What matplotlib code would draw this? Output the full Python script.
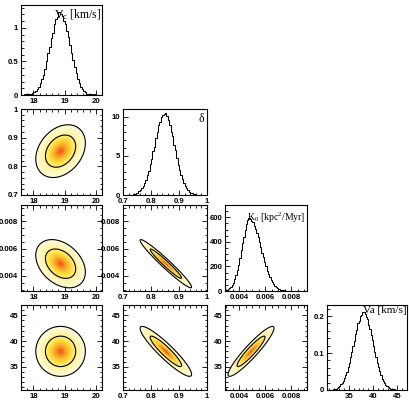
import numpy as np
import matplotlib
matplotlib.use("Agg")
import matplotlib.pyplot as plt
from matplotlib.ticker import MultipleLocator, FuncFormatter
from matplotlib.colors import LinearSegmentedColormap

# ---------------- data ----------------
param_titles = ["V$_\\mathrm{c}$ [km/s]", "\u03b4", "K$_0$ [kpc$^2$/Myr]", "Va [km/s]"]
axis_limits = [(17.6, 20.2), (0.7, 1.0), (0.0029, 0.0092), (30.5, 47.0)]

vc_hist_lo, vc_hist_w = 17.6, 0.05
vc_hist = [0.00, 0.00, 0.01, 0.01, 0.01, 0.01, 0.02, 0.03, 0.04, 0.06,
           0.09, 0.12, 0.18, 0.24, 0.30, 0.38, 0.50, 0.62, 0.72, 0.85,
           0.93, 1.05, 1.13, 1.16, 1.23, 1.21, 1.18, 1.10, 1.05, 0.96,
           0.86, 0.75, 0.63, 0.52, 0.41, 0.33, 0.24, 0.18, 0.12, 0.09,
           0.06, 0.04, 0.02, 0.02, 0.01, 0.01, 0.00, 0.01, 0.00, 0.00,
           0.00, 0.00]

delta_hist_lo, delta_hist_w = 0.7, 0.005
delta_hist = [0.0, 0.0, 0.01, 0.0, 0.03, 0.04, 0.06, 0.1, 0.14, 0.2,
              0.3, 0.45, 0.6, 0.85, 1.1, 1.5, 1.95, 2.55, 3.1, 3.95,
              4.6, 5.6, 6.2, 7.3, 8.0, 8.9, 9.4, 10.0, 10.2, 10.4,
              10.5, 10.1, 9.6, 9.0, 8.1, 7.5, 6.4, 5.7, 4.7, 3.9,
              3.2, 2.5, 2.0, 1.55, 1.1, 0.85, 0.6, 0.4, 0.3, 0.2,
              0.13, 0.1, 0.06, 0.04, 0.02, 0.02, 0.01, 0.0, 0.0, 0.0]

k0_hist_lo, k0_hist_w = 0.0029, 0.0001
k0_hist = [3, 8, 14, 22, 30, 48, 66, 95, 130, 170,
           215, 270, 330, 390, 440, 500, 545, 575, 592, 585,
           570, 560, 530, 505, 470, 440, 395, 355, 310, 280,
           235, 200, 165, 140, 112, 90, 70, 55, 42, 32,
           25, 18, 12, 10, 6, 5, 3, 2, 2, 1,
           1, 0, 0, 0, 0, 0, 0, 0, 0, 0, 0, 0, 0]

va_hist_lo, va_hist_w = 31.0, 0.25
va_hist = [0.000, 0.001, 0.001, 0.002, 0.002, 0.004, 0.005, 0.008, 0.010, 0.015,
           0.019, 0.025, 0.032, 0.040, 0.050, 0.063, 0.073, 0.090, 0.102, 0.120,
           0.133, 0.152, 0.163, 0.180, 0.188, 0.200, 0.204, 0.210, 0.212, 0.206,
           0.198, 0.191, 0.177, 0.166, 0.149, 0.136, 0.118, 0.103, 0.089, 0.074,
           0.061, 0.051, 0.041, 0.031, 0.025, 0.020, 0.014, 0.011, 0.008, 0.005,
           0.004, 0.003, 0.002, 0.002, 0.001, 0.001, 0.000, 0.001, 0.000, 0.000,
           0.000, 0.000]

hist_values = [vc_hist, delta_hist, k0_hist, va_hist]
hist_lo = [vc_hist_lo, delta_hist_lo, k0_hist_lo, va_hist_lo]
hist_width = [vc_hist_w, delta_hist_w, k0_hist_w, va_hist_w]
hist_ymax = [1.34, 11.0, 700.0, 0.23]

# 2D posterior summaries (centre, spread, pairwise correlation)
param_mean = [18.87, 0.853, 0.0049, 38.0]
param_sigma = [0.32, 0.037, 0.00071, 1.95]
pair_corr = {(0, 1): 0.30, (0, 2): -0.35, (0, 3): 0.0,
             (1, 2): -0.97, (1, 3): -0.92, (2, 3): 0.93}
contour_levels_cl = [0.9545, 0.6827]

# ---------------- layout / style ----------------
major_step = [1.0, 0.1, 0.002, 5.0]
minor_step = [0.2, 0.02, 0.0005, 1.0]
hist_major = [0.5, 5.0, 200.0, 0.1]
hist_minor = [0.1, 1.0, 50.0, 0.02]

W, H = 410, 401
col_left = [21, 123, 225, 327]
col_right = [102, 207, 307, 407]
row_top = [5, 109, 205, 305]
row_bot = [95, 195, 291, 390]
title_pos = [(0.995, 0.975), (0.97, 0.95), (0.985, 0.93), (0.99, 0.985)]
title_size = [8.5, 8.5, 7.0, 8.0]

plt.rcParams["font.family"] = ["Liberation Sans", "DejaVu Sans"]
plt.rcParams["mathtext.fontset"] = "custom"
plt.rcParams["mathtext.rm"] = "Liberation Serif"
plt.rcParams["mathtext.it"] = "Liberation Serif:italic"

cmap = LinearSegmentedColormap.from_list(
    "root_yor",
    [(0.0, "#fffbd6"), (0.28, "#fff08a"), (0.5, "#ffe040"),
     (0.75, "#fbbb30"), (0.92, "#f59020"), (1.0, "#f06018")])
cmap.set_bad("white")

fmt = FuncFormatter(lambda v, p: ("%g" % round(v, 6)))

fig = plt.figure(figsize=(W / 100, H / 100), dpi=100)


def make_axes(r, c):
    l = col_left[c] / W
    b = (H - row_bot[r]) / H
    w = (col_right[c] - col_left[c]) / W
    h = (row_bot[r] - row_top[r]) / H
    return fig.add_axes([l, b, w, h])


def style(ax, both_sides):
    for s in ax.spines.values():
        s.set_linewidth(0.8)
    ax.tick_params(which="both", direction="in", top=both_sides, right=both_sides,
                   labelsize=5.6, width=0.6)
    ax.tick_params(axis="x", which="both", pad=2.5)
    ax.tick_params(axis="y", which="both", pad=2)
    ax.tick_params(which="major", length=3.5)
    ax.tick_params(which="minor", length=1.8)
    ax.xaxis.set_major_formatter(fmt)
    ax.yaxis.set_major_formatter(fmt)
    for lab in ax.get_xticklabels() + ax.get_yticklabels():
        lab.set_fontweight("bold")


n = len(hist_values)
for i in range(n):
    ax = make_axes(i, i)
    vals = np.asarray(hist_values[i], dtype=float)
    edges = hist_lo[i] + hist_width[i] * np.arange(len(vals) + 1)
    ax.stairs(vals, edges, color="black", linewidth=0.75)
    ax.set_xlim(*axis_limits[i])
    ax.set_ylim(0, hist_ymax[i])
    ax.xaxis.set_major_locator(MultipleLocator(major_step[i]))
    ax.xaxis.set_minor_locator(MultipleLocator(minor_step[i]))
    ax.yaxis.set_major_locator(MultipleLocator(hist_major[i]))
    ax.yaxis.set_minor_locator(MultipleLocator(hist_minor[i]))
    style(ax, False)
    ax.text(title_pos[i][0], title_pos[i][1], param_titles[i], transform=ax.transAxes,
            ha="right", va="top", fontsize=title_size[i],
            family=["Liberation Serif", "DejaVu Serif"])

for r in range(1, n):
    for c in range(r):
        ax = make_axes(r, c)
        xs = np.linspace(*axis_limits[c], 200)
        ys = np.linspace(*axis_limits[r], 200)
        X, Y = np.meshgrid(xs, ys)
        zx = (X - param_mean[c]) / param_sigma[c]
        zy = (Y - param_mean[r]) / param_sigma[r]
        rho = pair_corr[(c, r)]
        Q = (zx ** 2 - 2 * rho * zx * zy + zy ** 2) / (1 - rho ** 2)
        P = np.exp(-0.5 * Q)
        lev = [1 - cl for cl in contour_levels_cl]  # density ratio at the CL contour
        Pm = np.ma.masked_less(P, lev[0])
        ax.pcolormesh(X, Y, Pm, cmap=cmap, vmin=lev[0], vmax=1.0, shading="auto",
                      rasterized=True)
        ax.contour(X, Y, P, levels=sorted(lev), colors="black", linewidths=0.8)
        ax.set_xlim(*axis_limits[c])
        ax.set_ylim(*axis_limits[r])
        ax.xaxis.set_major_locator(MultipleLocator(major_step[c]))
        ax.xaxis.set_minor_locator(MultipleLocator(minor_step[c]))
        ax.yaxis.set_major_locator(MultipleLocator(major_step[r]))
        ax.yaxis.set_minor_locator(MultipleLocator(minor_step[r]))
        style(ax, True)

fig.savefig("out.png", dpi=100)
